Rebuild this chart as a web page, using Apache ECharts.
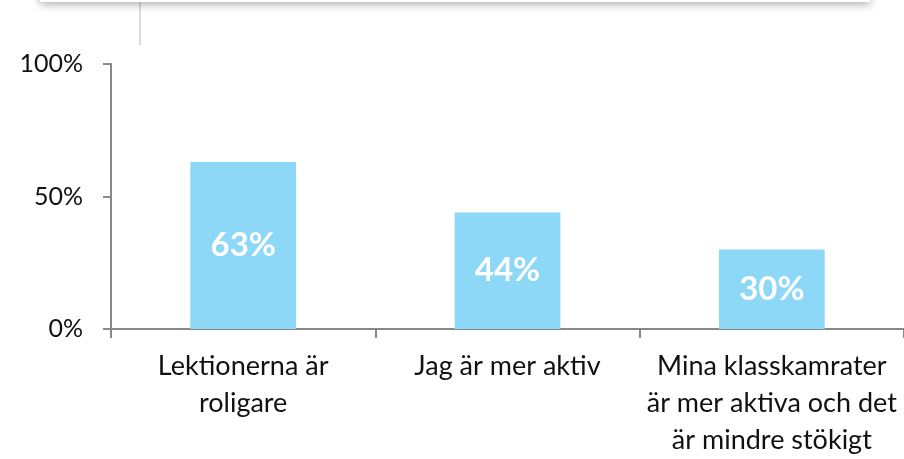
<!DOCTYPE html>
<html>
<head>
<meta charset="utf-8">
<script src="https://cdn.jsdelivr.net/npm/echarts@6/dist/echarts.min.js"></script>
<style>html,body{margin:0;padding:0;background:#fff;overflow:hidden;}#c{width:904px;height:459px;}</style>
</head>
<body>
<div id="c"></div>
<script>
const categories = ["Lektionerna är\nroligare", "Jag är mer aktiv", "Mina klasskamrater\när mer aktiva och det\när mindre stökigt"];
const values = [63, 44, 30];
const yTicks = [0, 50, 100];

const chart = echarts.init(document.getElementById('c'));
chart.setOption({
  animation: false,
  backgroundColor: '#fff',
  grid: { left: 111, top: 64, bottom: 125, right: -5, containLabel: false },
  xAxis: {
    type: 'category',
    data: categories,
    axisLine: { lineStyle: { color: '#888', width: 2 } },
    axisTick: { show: true, length: 9, lineStyle: { color: '#888', width: 2 } },
    axisLabel: { color: '#111', fontFamily: 'Lato', fontSize: 27, lineHeight: 37, margin: 19, interval: 0 }
  },
  yAxis: {
    type: 'value',
    min: yTicks[0], max: yTicks[yTicks.length - 1], interval: 50,
    splitLine: { show: false },
    axisLine: { show: true, lineStyle: { color: '#888', width: 2 } },
    axisTick: { show: true, length: 8, lineStyle: { color: '#888', width: 2 } },
    axisLabel: { color: '#111', fontFamily: 'Lato', fontSize: 25, margin: 28, formatter: v => v + '%' }
  },
  series: [{
    type: 'bar',
    data: values,
    barWidth: '40%',
    itemStyle: { color: '#8DD8F7' },
    label: { show: true, position: 'inside', color: '#fff', fontFamily: 'Lato', fontWeight: 'bold', fontSize: 33, formatter: p => p.value + '%' }
  }],
  graphic: [
    { type: 'rect', shape: { x: 40, y: -20, width: 830, height: 22 }, style: { fill: '#fff', shadowBlur: 10, shadowColor: 'rgba(0,0,0,0.35)', shadowOffsetY: 2 }, z: 10 },
    { type: 'line', shape: { x1: 140, y1: 2, x2: 140, y2: 45 }, style: { stroke: '#ddd', lineWidth: 2 }, z: 9 }
  ]
});
</script>
</body>
</html>
